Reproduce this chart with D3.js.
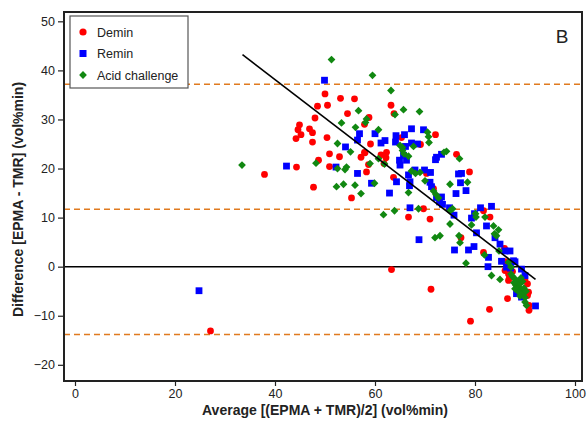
<!DOCTYPE html>
<html><head><meta charset="utf-8">
<script src="https://cdn.jsdelivr.net/npm/d3@7/dist/d3.min.js"></script>
<style>body{margin:0;background:#fff;} text{font-family:"Liberation Sans",Arial,sans-serif;}</style>
</head><body>
<svg id="c" width="587" height="424"></svg>
<script>
// Demin (red circles): [average, difference]
const demin = [
[50.0,35.2],[53.1,34.3],[55.9,34.2],[48.5,32.7],[50.5,32.9],[54.5,31.2],[48.0,30.3],[44.9,28.9],[44.6,27.9],
[46.9,28.1],[47.5,27.3],[45.2,26.9],[44.2,26.1],[47.5,25.4],[50.4,26.3],[50.9,23.0],[52.9,22.4],[57.2,22.3],
[58.0,23.2],[48.7,21.7],[44.3,20.3],[50.9,20.4],[58.7,20.8],[58.3,19.3],[47.7,16.2],[37.9,18.8],[63.2,32.9],
[63.8,31.2],[58.8,30.4],[57.9,29.0],[65.3,26.3],[72.1,26.9],[69.1,24.9],[59.1,25.0],[62.3,23.3],[61.2,22.8],
[62.2,22.2],[57.9,23.3],[76.3,22.9],[61.8,21.0],[70.3,19.0],[63.7,18.2],[55.3,14.0],[78.9,19.3],[69.7,11.8],
[66.7,10.1],[71.0,9.7],[71.7,15.9],[63.3,-0.6],[77.2,5.9],[81.7,11.4],[83.0,10.1],[81.7,2.9],[85.9,3.7],
[86.0,1.0],[86.9,-2.2],[86.7,-2.8],[90.0,-2.8],[90.5,-3.5],[90.7,-5.2],[90.5,-5.9],[89.7,-5.9],[90.8,-7.9],
[90.8,-8.9],[86.5,-6.5],[82.9,-8.7],[79.1,-11.1],[71.2,-4.6],[27.1,-13.1],[87.5,-1.0],[88.2,-3.5],[86.0,-0.8],
[86.7,-1.5]
];
// Remin (blue squares)
const remin = [
[49.9,38.0],[56.9,27.1],[56.5,25.8],[54.1,24.4],[42.3,20.5],[52.2,20.3],[56.5,19.0],[67.3,28.1],[69.7,27.9],
[60.0,27.1],[64.2,26.7],[65.9,26.9],[62.0,25.7],[61.2,25.2],[64.1,25.4],[67.3,25.2],[68.5,25.0],[66.1,24.5],
[65.7,22.7],[64.9,21.7],[65.0,20.7],[66.3,21.7],[73.3,22.9],[72.3,22.3],[72.1,21.8],[66.7,18.7],[68.0,19.7],
[69.9,19.7],[71.1,19.2],[76.7,18.9],[64.3,17.3],[67.0,17.3],[59.3,17.0],[71.0,17.2],[62.9,15.0],[66.9,16.5],
[71.3,16.3],[72.3,14.1],[72.9,13.2],[73.5,12.7],[76.2,14.9],[77.3,19.0],[77.1,17.1],[78.2,15.5],[67.0,12.0],
[74.9,12.0],[75.8,10.5],[73.3,14.2],[68.8,5.5],[75.9,3.4],[81.1,12.0],[83.3,12.3],[79.9,10.8],[79.3,9.9],
[82.3,8.3],[80.3,6.9],[84.0,5.9],[78.7,3.4],[79.8,4.1],[85.0,4.6],[86.0,3.2],[87.0,3.2],[82.7,1.9],[82.6,0.0],
[85.3,1.1],[87.7,1.2],[86.3,-0.1],[88.0,1.0],[87.1,-0.3],[89.3,-0.5],[90.0,-1.8],[89.3,-6.2],[88.3,-5.5],
[92.1,-8.0],[24.8,-4.9]
];
// Acid challenge (green diamonds)
const acid = [
[51.3,42.2],[59.5,39.0],[63.2,35.9],[56.7,31.8],[65.7,32.0],[68.9,31.6],[64.0,31.0],[58.3,30.1],[58.1,29.4],
[53.3,29.3],[56.1,28.4],[60.7,27.9],[70.5,27.4],[70.7,26.5],[70.8,25.3],[65.0,24.7],[65.5,24.3],[67.7,24.5],
[52.5,25.1],[55.1,23.4],[65.5,23.7],[65.8,23.0],[66.7,22.5],[73.8,23.3],[74.3,23.5],[59.0,21.0],[60.7,22.0],
[76.9,22.0],[48.2,21.1],[52.5,20.0],[54.3,20.3],[54.0,19.8],[33.4,20.7],[67.3,19.5],[68.1,19.0],[69.0,19.2],
[59.9,17.0],[70.0,17.5],[75.0,16.8],[52.3,16.3],[53.7,16.8],[56.0,16.6],[57.2,14.9],[66.7,15.1],[71.7,15.4],
[72.2,14.7],[72.7,14.0],[68.7,11.8],[63.9,11.4],[61.7,10.6],[75.0,11.4],[75.5,11.8],[75.0,8.7],[72.0,5.9],
[73.0,6.3],[76.8,6.3],[77.0,4.9],[78.5,17.2],[82.0,10.1],[80.2,10.1],[80.1,10.8],[79.3,8.5],[83.7,8.3],
[84.7,7.5],[83.9,6.7],[84.3,6.3],[84.8,3.2],[81.9,2.4],[78.2,0.7],[83.3,-1.8],[85.0,-2.6],[87.2,-0.1],
[86.7,0.9],[61.9,20.9],[87.5,-2.0],[88.0,-2.5],[88.5,-3.0],[88.2,-3.8],[88.8,-4.2],[89.0,-3.5],[89.3,-4.8],
[88.6,-5.0],[89.6,-5.5],[89.0,-6.0],[90.0,-6.3],[89.5,-3.0],[88.0,-4.5],[87.8,-3.3],[89.8,-4.4],[90.2,-5.0],
[90.0,-7.2],[90.3,-7.9],[87.2,-1.5],[89.2,-2.3]
];
const xTicks = [0,20,40,60,80,100];
const yTicks = [-20,-10,0,10,20,30,40,50];
const limits = [37.2, 11.7, -13.8];           // upper LoA, mean bias, lower LoA
const regression = [[33.5,43.2],[92.1,-2.6]]; // fitted trend line endpoints
const legendItems = ["Demin","Remin","Acid challenge"];
const colors = ["#ff0000","#0000ff","#118811"];

const svg = d3.select("#c");
const L=64, R=582, T=12, B=381;
const x = d3.scaleLinear().domain([-2.2,101.4]).range([L,R]);
const y = d3.scaleLinear().domain([-23.3,51.9]).range([B,T]);

// axes
const xa = svg.append("g").attr("transform",`translate(0,${B})`)
  .call(d3.axisBottom(x).tickValues(xTicks).tickSize(5).tickPadding(3));
const ya = svg.append("g").attr("transform",`translate(${L},0)`)
  .call(d3.axisLeft(y).tickValues(yTicks).tickSize(6).tickPadding(3));
[xa,ya].forEach(a=>{a.select(".domain").remove();
  a.selectAll("line").attr("stroke","#222").attr("stroke-width",1.2);
  a.selectAll("text").attr("font-size",12.5).attr("fill","#222").style("font-family","'Liberation Sans',Arial,sans-serif");});

const clip = svg.append("defs").append("clipPath").attr("id","pc").append("rect")
  .attr("x",L).attr("y",T).attr("width",R-L).attr("height",B-T);
const g = svg.append("g").attr("clip-path","url(#pc)");

g.selectAll(".lim").data(limits).join("line")
  .attr("x1",L).attr("x2",R).attr("y1",d=>y(d)).attr("y2",d=>y(d))
  .attr("stroke","#e07a1f").attr("stroke-width",1.5).attr("stroke-dasharray","6,4");
g.append("line").attr("x1",L).attr("x2",R).attr("y1",y(0)).attr("y2",y(0))
  .attr("stroke","#000").attr("stroke-width",1.5);

g.selectAll(".dm").data(demin).join("circle")
  .attr("cx",d=>x(d[0])).attr("cy",d=>y(d[1])).attr("r",3.4).attr("fill",colors[0]);
g.selectAll(".rm").data(remin).join("rect")
  .attr("x",d=>x(d[0])-3.4).attr("y",d=>y(d[1])-3.4).attr("width",6.8).attr("height",6.8).attr("fill",colors[1]);
const dia = "M0,-3.9L3.9,0L0,3.9L-3.9,0Z";
g.selectAll(".ac").data(acid).join("path")
  .attr("transform",d=>`translate(${x(d[0])},${y(d[1])})`).attr("d",dia).attr("fill",colors[2]);

g.append("path").datum(regression)
  .attr("d",d3.line().x(d=>x(d[0])).y(d=>y(d[1])))
  .attr("stroke","#000").attr("stroke-width",1.6).attr("fill","none");

svg.append("rect").attr("x",L).attr("y",T).attr("width",R-L).attr("height",B-T)
  .attr("fill","none").attr("stroke","#222").attr("stroke-width",2);

// legend
const lg = svg.append("g");
lg.append("rect").attr("x",70).attr("y",16).attr("width",118).attr("height",72)
  .attr("fill","#fff").attr("stroke","#555").attr("stroke-width",1.2);
legendItems.forEach((t,i)=>{
  const cy = 32 + i*21.5;
  if(i===0) lg.append("circle").attr("cx",83).attr("cy",cy).attr("r",3.6).attr("fill",colors[0]);
  if(i===1) lg.append("rect").attr("x",79.5).attr("y",cy-3.5).attr("width",7).attr("height",7).attr("fill",colors[1]);
  if(i===2) lg.append("path").attr("transform",`translate(83,${cy})`).attr("d",dia).attr("fill",colors[2]);
  lg.append("text").attr("x",97).attr("y",cy+4.5).attr("font-size",12.5).attr("fill","#222").text(t);
});

svg.append("text").attr("x",562).attr("y",43).attr("text-anchor","middle")
  .attr("font-size",19).attr("fill","#222").text("B");

svg.append("text").attr("x",(L+R)/2+2).attr("y",415).attr("text-anchor","middle")
  .attr("font-size",14).attr("font-weight","bold").attr("fill","#222")
  .text("Average [(EPMA + TMR)/2] (vol%min)");
svg.append("text").attr("transform",`translate(23,${(T+B)/2+3}) rotate(-90)`).attr("text-anchor","middle")
  .attr("font-size",14).attr("font-weight","bold").attr("fill","#222")
  .text("Difference [EPMA - TMR] (vol%min)");
</script>
</body></html>
